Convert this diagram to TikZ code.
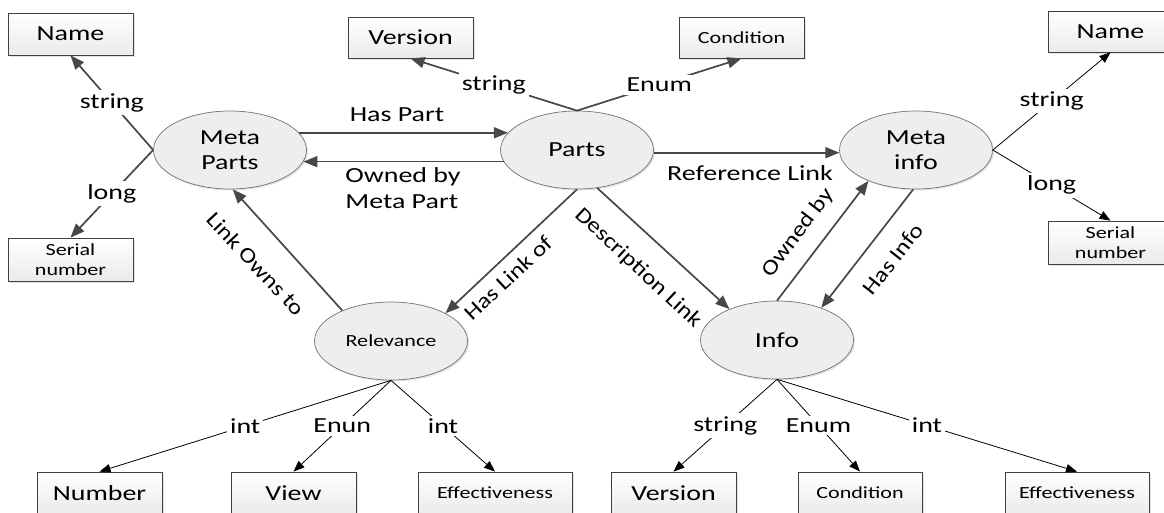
\documentclass[tikz,border=0pt]{standalone}
\usepackage{fontspec}
\setmainfont{Carlito}[FakeStretch=1.3]
\newfontfamily\rotfont{Carlito}[FakeStretch=1.18]
\usetikzlibrary{arrows.meta,shapes.geometric,shadows}
\newcommand\fbig{\fontsize{21.5}{25}\selectfont}
\newcommand\fsmall{\fontsize{17}{23}\selectfont}
\newcommand\frot{\rotfont\fontsize{21.5}{25}\selectfont}
\begin{document}
\begin{tikzpicture}[x=1pt,y=-1pt,
  ent/.style={ellipse, draw=black!55, line width=0.7pt, fill=gray!13,
    minimum width=153pt, minimum height=78pt, inner sep=0pt, align=center, font=\fbig,
    drop shadow={shadow xshift=1.5pt,shadow yshift=-1.5pt,fill=gray!60,opacity=0.35}},
  attrbox/.style={rectangle, draw=black!75, line width=0.8pt, top color=white, bottom color=gray!16,
    minimum width=125pt, minimum height=42pt, inner sep=0pt, align=center, font=\fbig,
    drop shadow={shadow xshift=2pt,shadow yshift=-2pt,fill=gray!60,opacity=0.35}},
  relarrow/.style={draw=black!72, line width=1.7pt, -{Triangle[length=14pt,width=11pt]}},
  thinarrow/.style={draw=black, line width=0.8pt, -{Triangle[length=11pt,width=8.5pt]}},
  tlbl/.style={font=\fbig, fill=white, inner sep=3pt},
  rlbl/.style={font=\frot, inner sep=0pt},
]
\useasboundingbox (0,0) rectangle (1164,512);
\clip (0,0) rectangle (1164,512);
\fill[white] (0,0) rectangle (1164,512);

% entities
\node[ent] (mp) at (230,150) {Meta\\Parts};
\node[ent] (parts) at (577,150) {Parts};
\node[ent] (mi) at (916,150) {Meta\\info};
\node[ent, font=\fsmall] (relv) at (391,341) {Relevance};
\node[ent] (info) at (777,340) {Info};

% attribute boxes
\node[attrbox] (nameL) at (70.5,34) {Name};
\node[attrbox, font=\fsmall, minimum height=43pt] (serialL) at (70.5,259.5) {Serial\\[-3pt]number};
\node[attrbox, minimum height=41pt] (versionT) at (410.5,37.5) {Version};
\node[attrbox, font=\fsmall, minimum height=41pt] (condT) at (741.5,37.5) {Condition};
\node[attrbox, minimum height=41pt] (nameR) at (1110.5,31.5) {Name};
\node[attrbox, font=\fsmall, minimum height=43pt] (serialR) at (1110.5,242.5) {Serial\\[-3pt]number};

\node[attrbox] (number) at (99.5,493) {Number};
\node[attrbox] (view) at (293.5,493) {View};
\node[attrbox, font=\fsmall, minimum width=154pt] (effL) at (495,493) {Effectiveness};
\node[attrbox] (versionB) at (673.5,493) {Version};
\node[attrbox, font=\fsmall, minimum width=124pt] (condB) at (860,493) {Condition};
\node[attrbox, font=\fsmall, minimum width=144pt] (effR) at (1077,493) {Effectiveness};

% relations
\draw[relarrow] (mp.14) -- (parts.166);
\draw[relarrow] (parts.189) -- (mp.-9);
\draw[relarrow] (parts.-2) -- (mi.182);
\draw[relarrow] (parts.south) -- (relv.27);
\draw[relarrow] (parts.-62) -- (info.147);
\draw[relarrow] (relv.148) -- (mp.-86);
\draw[relarrow] (info.north) -- (mi.-147);
\draw[relarrow] (mi.-94) -- (info.36);

\node[font=\fbig] (lhaspart) at (397,115) {Has Part};
\node[font=\fbig, align=left] (lowned) at (403,188) {Owned by\\[1pt]Meta Part};
\node[font=\fbig] (lref) at (750,173) {Reference Link};
\node[rlbl, rotate=-47] (lown) at (256,264) {Link Owns to};
\node[rlbl, rotate=43] (lhaslink) at (508,278) {Has Link of};
\node[rlbl, rotate=-43] (ldesc) at (638,268) {Description Link};
\node[rlbl, rotate=53] (lownedby) at (798,233) {Owned by};
\node[rlbl, rotate=52] (lhasinfo) at (893,259) {Has Info};

% attributes of Meta Parts and Parts (thick)
\draw[relarrow] (mp.west) -- node[tlbl] (a1) {string} (nameL.south);
\draw[relarrow] (mp.west) -- node[tlbl] (a2) {long} (serialL.north);
\draw[relarrow] (parts.north) -- node[tlbl] (a3) {string} (versionT.south);
\draw[relarrow] (parts.north) -- node[tlbl] (a4) {Enum} (condT.south);

% attributes of Meta info (thin)
\draw[thinarrow] (mi.east) -- node[tlbl] (a5) {string} (nameR.south);
\draw[thinarrow] (mi.east) -- node[tlbl] (a6) {long} (serialR.north);

% attributes of Relevance
\draw[thinarrow] (relv.south) -- node[tlbl] (a7) {int} (number.north);
\draw[thinarrow] (relv.south) -- node[tlbl] (a8) {Enun} (view.north);
\draw[thinarrow] (relv.south) -- node[tlbl] (a9) {int} (effL.north);

% attributes of Info
\draw[thinarrow] (info.south) -- node[tlbl] (a10) {string} (versionB.north);
\draw[thinarrow] (info.south) -- node[tlbl] (a11) {Enum} (condB.north);
\draw[thinarrow] (info.south) -- node[tlbl] (a12) {int} (effR.north);
\end{tikzpicture}
\end{document}
